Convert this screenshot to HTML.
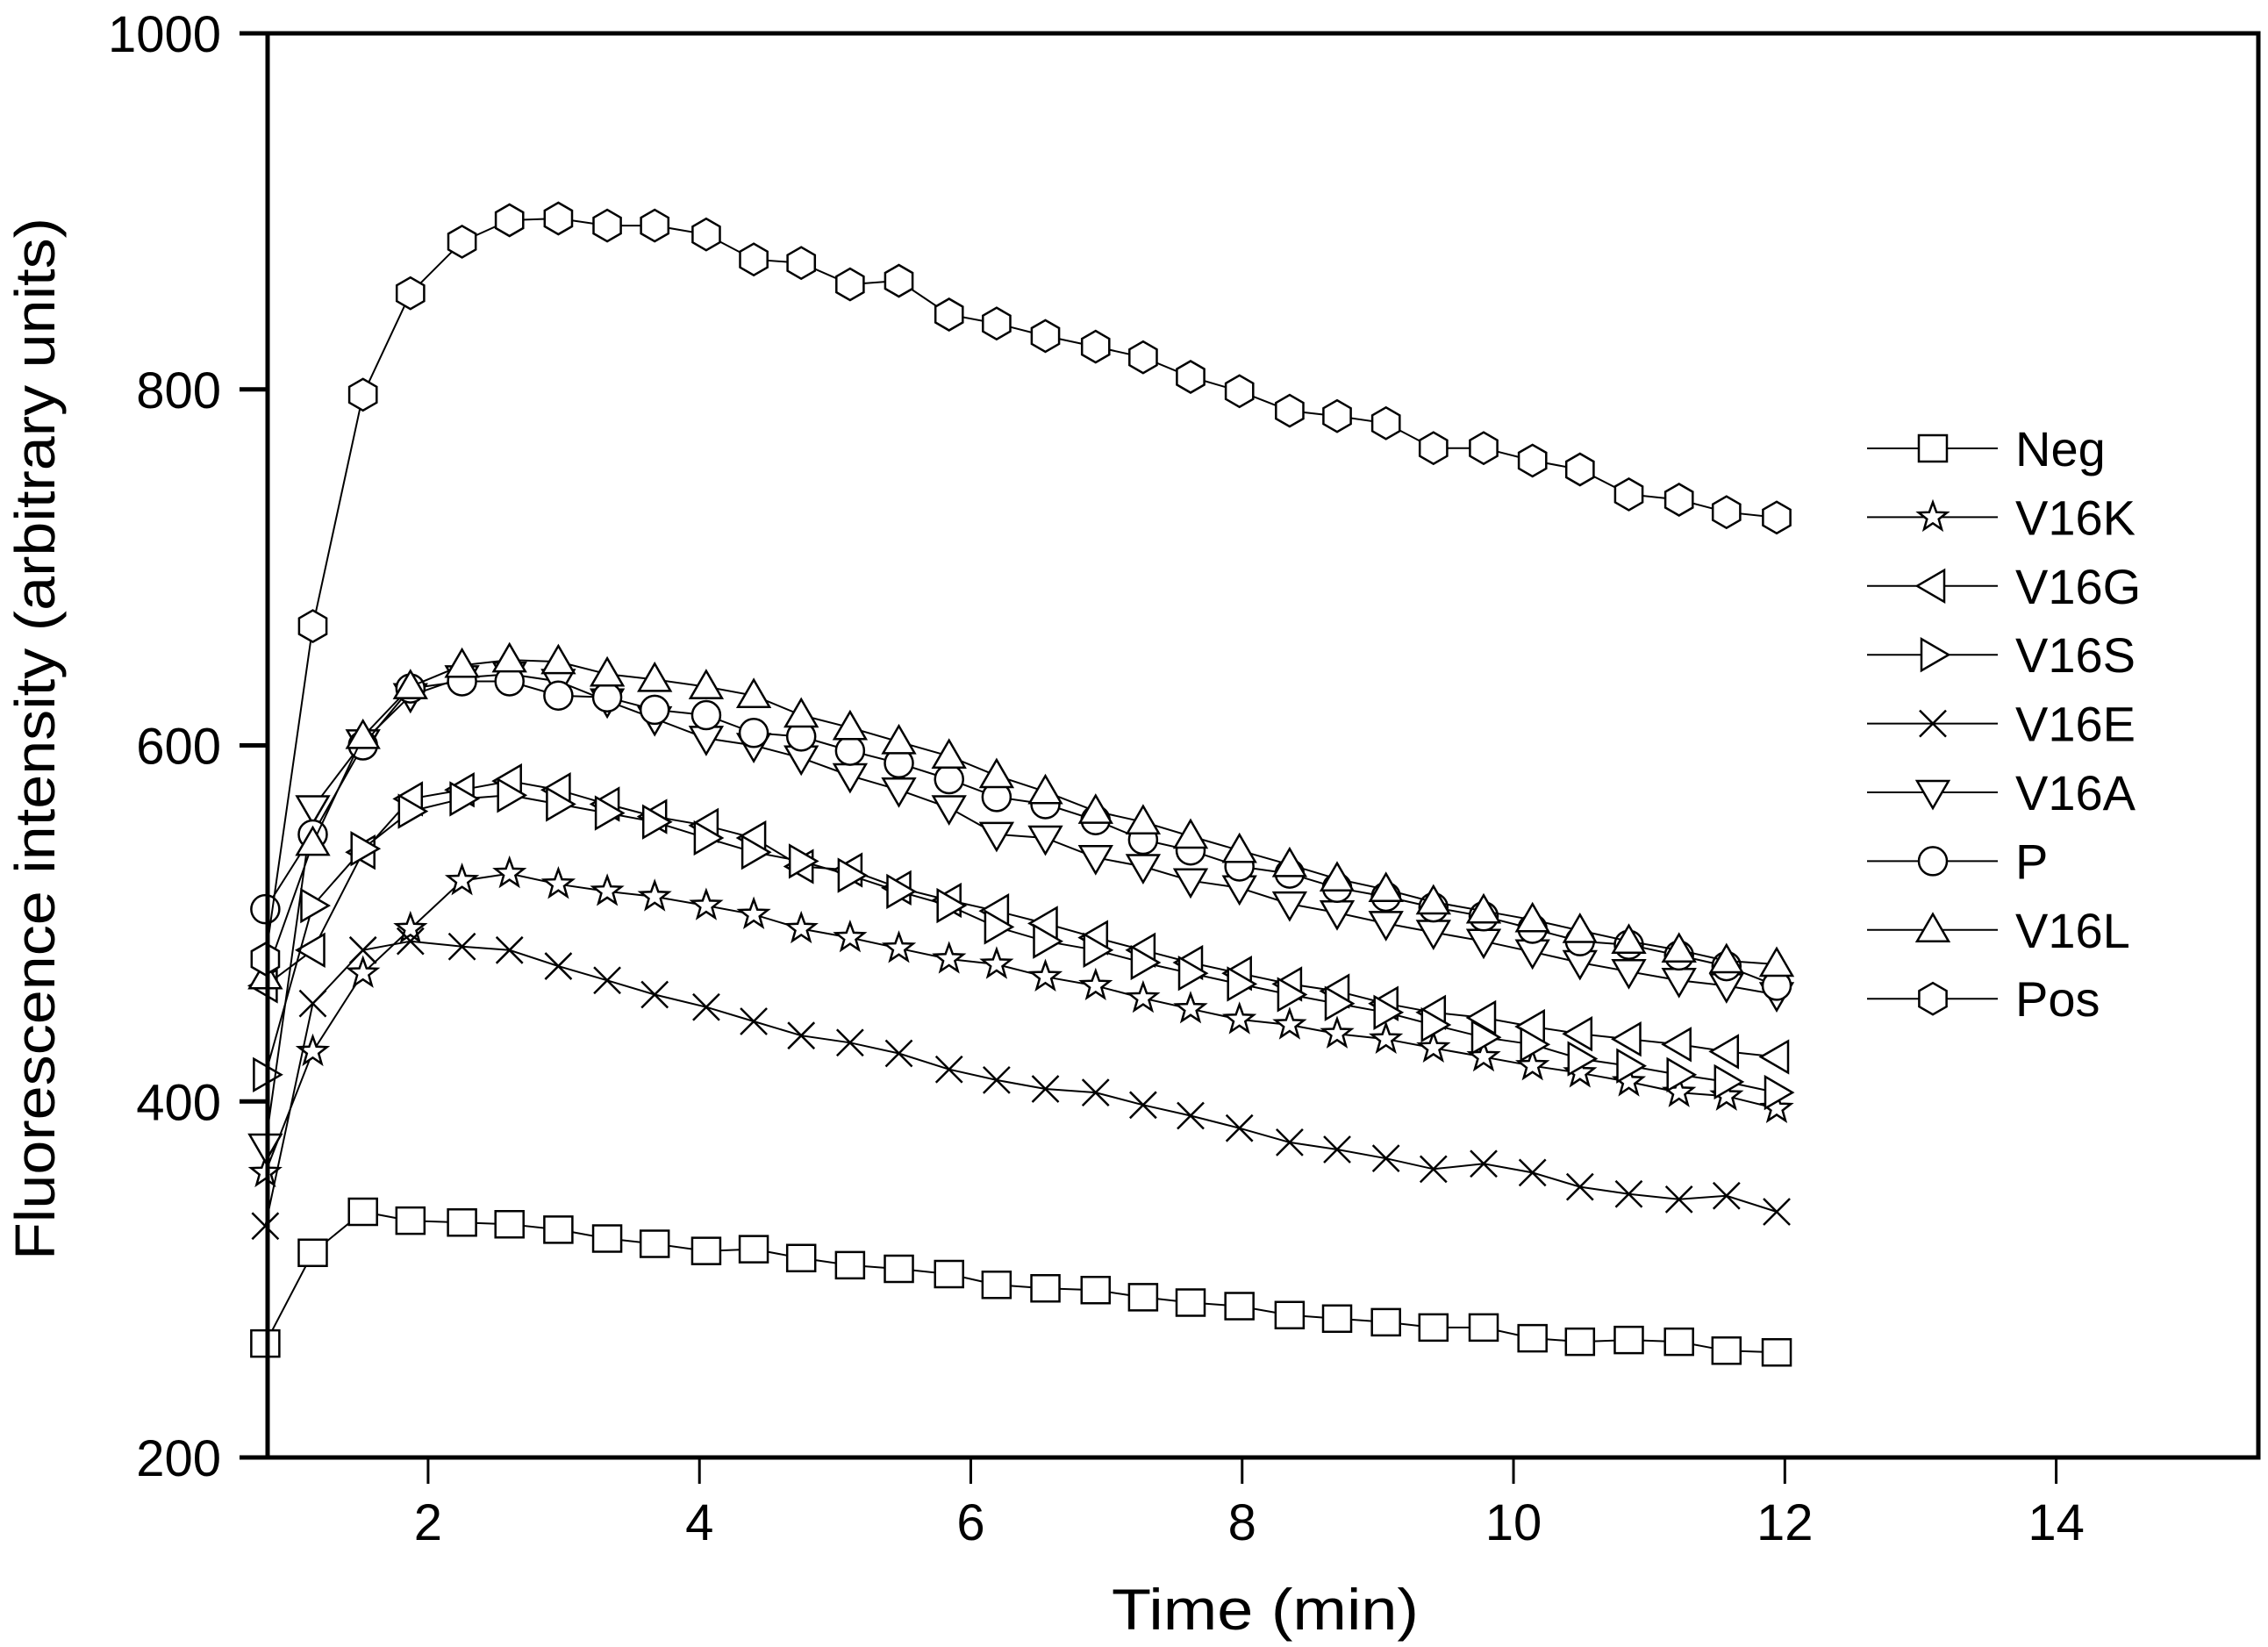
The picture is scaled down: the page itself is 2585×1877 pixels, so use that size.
<!DOCTYPE html>
<html><head><meta charset="utf-8"><style>
html,body{margin:0;padding:0;background:#fff;}
svg{display:block;font-family:"Liberation Sans",Arial,sans-serif;}
</style></head><body>
<svg id="chart" width="2585" height="1877" viewBox="0 0 2585 1877" xmlns="http://www.w3.org/2000/svg">
<rect width="2585" height="1877" fill="#fff"/>
<g id="series"></g>
<g id="axes"></g>
<g id="legend"></g>
</svg>
<script>
const times = [0.8,1.15,1.52,1.87,2.25,2.6,2.96,3.32,3.67,4.05,4.4,4.75,5.11,5.47,5.84,6.19,6.55,6.92,7.27,7.62,7.98,8.35,8.7,9.06,9.41,9.78,10.14,10.49,10.85,11.22,11.57,11.94];
const negVals = [264,315,338,333,332,331,328,323,320,316,317,312,308,306,303,297,295,294,290,287,285,280,278,276,273,273,267,265,266,265,260,259];
const v16kVals = [360,428,472,497,524,528,522,518,515,510,505,497,492,486,480,477,470,465,458,452,446,443,438,435,430,425,420,416,411,405,403,396];
const v16gVals = [465,485,540,570,575,580,575,567,560,555,548,532,530,520,513,507,500,492,485,478,472,466,462,455,450,447,442,438,435,432,428,425];
const v16sVals = [415,510,542,563,570,572,567,562,557,548,540,535,527,518,510,498,490,485,478,472,466,460,455,450,443,436,432,424,420,415,411,405];
const v16eVals = [330,455,485,490,487,485,476,468,460,453,445,437,433,427,418,412,407,405,398,392,385,377,373,368,362,365,360,352,348,345,347,338];
const v16aVals = [375,565,602,628,638,640,636,625,615,604,600,593,583,575,565,550,548,537,532,524,520,511,506,500,495,490,484,478,473,468,465,460];
const pVals = [508,550,600,632,636,636,628,627,620,617,607,605,597,590,581,571,567,558,547,541,532,528,520,515,509,504,497,490,488,482,476,465];
const v16lVals = [470,545,605,633,645,648,647,640,637,633,628,617,610,602,594,583,574,563,557,549,541,533,525,519,512,507,502,496,490,485,479,477];
const posVals = [480,667,797,854,883,895,896,892,892,887,873,871,859,861,842,837,830,824,818,807,799,788,785,781,767,767,760,755,741,738,731,728];
const seriesNames = ["Neg","V16K","V16G","V16S","V16E","V16A","P","V16L","Pos"];
const seriesMarkers = ["square","star","tri-left","tri-right","cross","tri-down","circle","tri-up","hexagon"];
const xTicks = [2,4,6,8,10,12,14];
const yTicks = [200,400,600,800,1000];

const NS="http://www.w3.org/2000/svg";
const L=305,R=2574,T=38,B=1661;
const xMin=0.817,xMax=15.49,yMin=200,yMax=1000;
function X(v){return L+(v-xMin)/(xMax-xMin)*(R-L);}
function Y(v){return B-(v-yMin)/(yMax-yMin)*(B-T);}
function mk(tag,attrs,parent){const e=document.createElementNS(NS,tag);for(const k in attrs)e.setAttribute(k,attrs[k]);parent.appendChild(e);return e;}
function markerPath(type,cx,cy){
  const r=16;let pts=[];
  if(type==="square") return `M${cx-16},${cy-15}h32v30h-32z`;
  if(type==="circle") return `M${cx-r},${cy}a${r},${r} 0 1,0 ${2*r},0a${r},${r} 0 1,0 ${-2*r},0z`;
  if(type==="cross") return `M${cx-15},${cy-15}L${cx+15},${cy+15}M${cx+15},${cy-15}L${cx-15},${cy+15}`;
  if(type==="hexagon"){for(let i=0;i<6;i++){const a=Math.PI/2+i*Math.PI/3;pts.push([cx+18*Math.cos(a),cy-18*Math.sin(a)]);}}
  else if(type==="tri-up") pts=[[cx,cy-18],[cx+18,cy+13],[cx-18,cy+13]];
  else if(type==="tri-down") pts=[[cx,cy+18],[cx+18,cy-13],[cx-18,cy-13]];
  else if(type==="tri-left") pts=[[cx-18,cy],[cx+13,cy-18],[cx+13,cy+18]];
  else if(type==="tri-right") pts=[[cx+18,cy],[cx-13,cy-18],[cx-13,cy+18]];
  else if(type==="star"){for(let i=0;i<10;i++){const a=Math.PI/2+i*Math.PI/5;const rr=i%2?7:17;pts.push([cx+rr*Math.cos(a),cy-rr*Math.sin(a)]);}}
  return "M"+pts.map(p=>p[0].toFixed(1)+","+p[1].toFixed(1)).join("L")+"Z";
}
const allVals=[negVals,v16kVals,v16gVals,v16sVals,v16eVals,v16aVals,pVals,v16lVals,posVals];
const sg=document.getElementById("series");
allVals.forEach((vals,si)=>{
  const g=mk("g",{},sg);
  
  
  const line=mk("polyline",{points:vals.map((v,i)=>X(times[i]).toFixed(1)+","+Y(v).toFixed(1)).join(" "),fill:"none",stroke:"#000","stroke-width":2},g);
  
  
  vals.forEach((v,i)=>{
    const m=mk("path",{d:markerPath(seriesMarkers[si],X(times[i]),Y(v)),fill:"#fff",stroke:"#000","stroke-width":2.5},g);
    
    
  });
});
const ax=document.getElementById("axes");
const frame=mk("rect",{x:L,y:T,width:R-L,height:B-T,fill:"none",stroke:"#000","stroke-width":5},ax);


xTicks.forEach(t=>{
  const tk=mk("line",{x1:X(t),x2:X(t),y1:B,y2:B+30,stroke:"#000","stroke-width":3},ax);
  
  
  const tx=mk("text",{x:X(t),y:1755,"font-size":58,"text-anchor":"middle"},ax);
  tx.textContent=t;
  
  
});
yTicks.forEach(t=>{
  const tk=mk("line",{x1:L-32,x2:L,y1:Y(t),y2:Y(t),stroke:"#000","stroke-width":5},ax);
  
  
  const tx=mk("text",{x:252,y:Y(t)+21,"font-size":58,"text-anchor":"end"},ax);
  tx.textContent=t;
  
  
});
const xt=mk("text",{x:1442,y:1857,"font-size":66,"text-anchor":"middle",textLength:350,lengthAdjust:"spacingAndGlyphs"},ax);
xt.textContent="Time (min)";


const yt=mk("text",{x:0,y:0,"font-size":64,"text-anchor":"middle",textLength:1188,lengthAdjust:"spacingAndGlyphs",transform:"translate(62,842) rotate(-90)"},ax);
yt.textContent="Fluorescence intensity (arbitrary units)";


const lg=document.getElementById("legend");
seriesNames.forEach((n,i)=>{
  const cy=511+i*78.4;
  const g=mk("g",{},lg);
  
  
  mk("line",{x1:2128,x2:2277,y1:cy,y2:cy,stroke:"#000","stroke-width":2},g);
  mk("path",{d:markerPath(seriesMarkers[i],2203,cy),fill:"#fff",stroke:"#000","stroke-width":2.5},g);
  const t=mk("text",{x:2297,y:cy+20,"font-size":56},g);
  t.textContent=n;
});
</script>
</body></html>
